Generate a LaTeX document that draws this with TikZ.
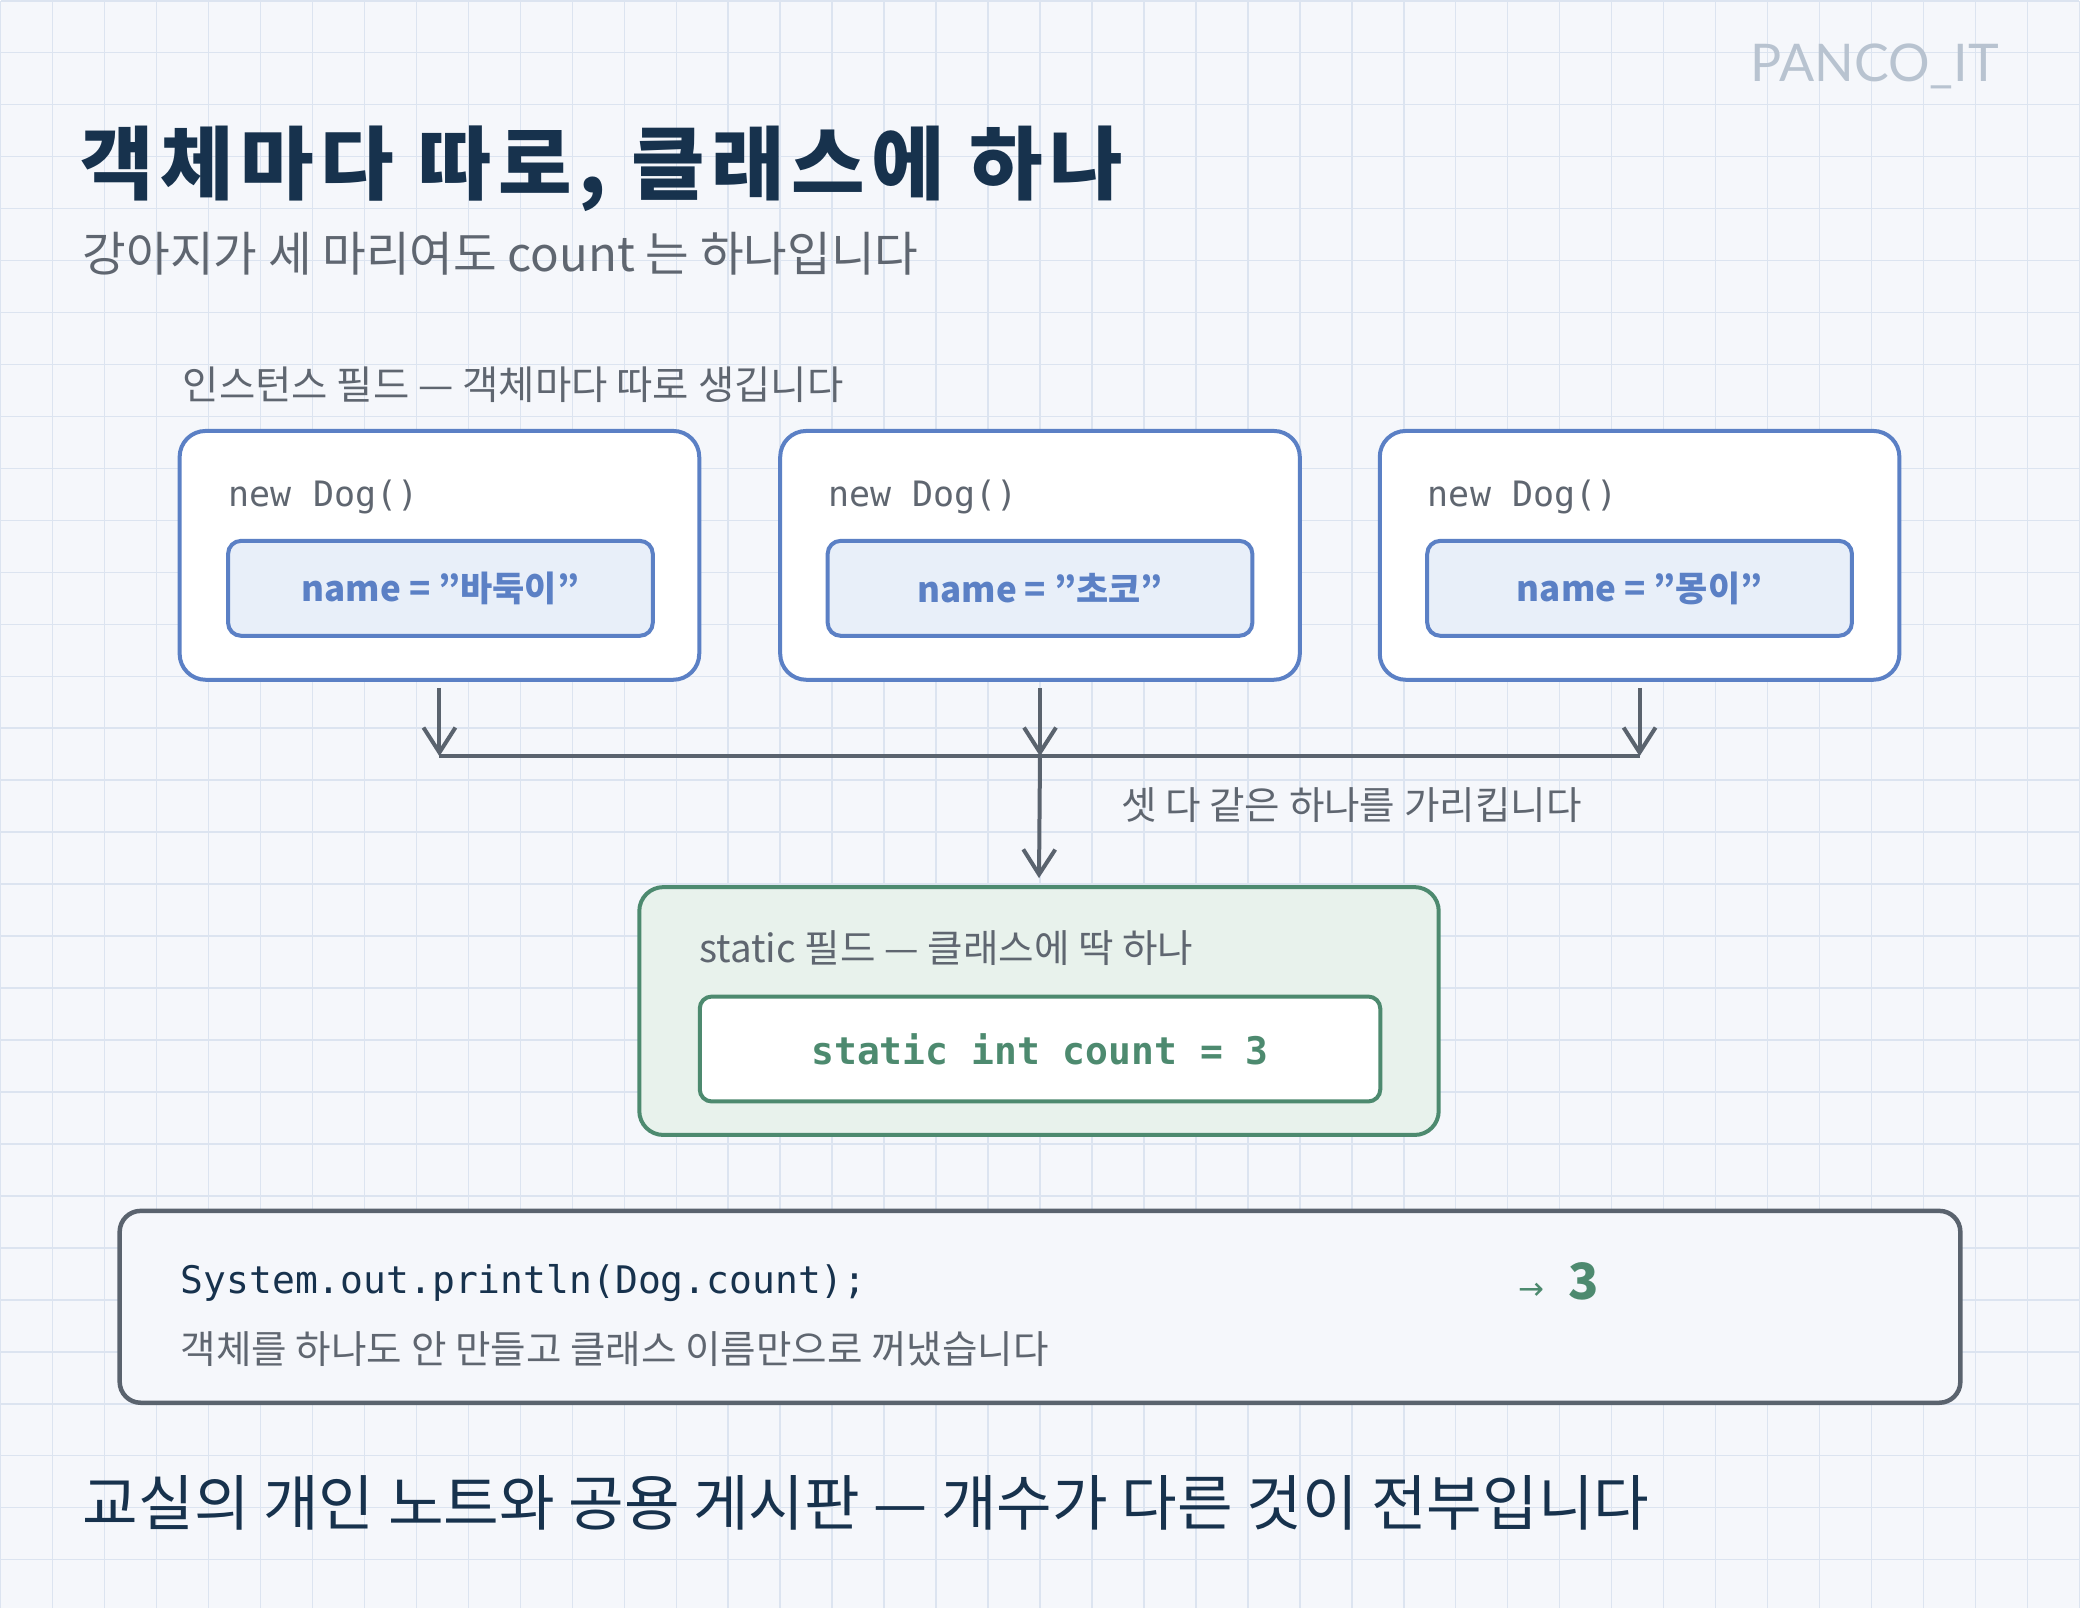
\documentclass[tikz,border=0pt]{standalone}
\usepackage{fontspec}
\setmainfont{Noto Sans CJK KR}
\setmonofont{DejaVu Sans Mono}
\newfontfamily\brandfont{Lato}
\newfontfamily\symbolfont{DejaVu Sans}
\usetikzlibrary{positioning,arrows.meta}

\definecolor{paper}{HTML}{F5F7FB}
\definecolor{gridc}{HTML}{DCE4F0}
\definecolor{navy}{HTML}{17324D}
\definecolor{muted}{HTML}{5F6670}
\definecolor{objblue}{HTML}{5B80C5}
\definecolor{objfill}{HTML}{E8EFF9}
\definecolor{clsgreen}{HTML}{4D8A6F}
\definecolor{clsfill}{HTML}{E8F2EC}
\definecolor{wire}{HTML}{5A636E}
\definecolor{brand}{HTML}{B8C3D0}

\newcommand{\fs}[1]{\fontsize{#1}{#1}\selectfont}

\begin{document}
\begin{tikzpicture}[x=1pt, y=-1pt,
  txt/.style={anchor=west, inner sep=0pt},
  obj/.style={draw=objblue, fill=white, line width=4pt, rounded corners=26pt, minimum width=520pt, minimum height=249pt},
  field/.style={draw=objblue, fill=objfill, line width=4pt, rounded corners=13pt, minimum width=425pt, minimum height=95pt, text=objblue, font=\fs{35}\bfseries},
  ctor/.style={txt, text=muted, font=\fs{35}\ttfamily},
  link/.style={draw=wire, line width=4pt},
  ptr/.style={link, -{Straight Barb[length=25pt, width=32pt]}}]
  % background and grid
  \fill[paper] (0,0) rectangle (2080,1608);
  \draw[gridc, line width=1.5pt] (0,0) grid[step=52pt] (2080,1608);
  \useasboundingbox (0,0) rectangle (2080,1608);

  \node[txt, text=brand, font=\brandfont\fs{52}] (brandmark) at (1751,66) {PANCO\_IT};
  \node[txt, text=navy, font=\fs{80}\bfseries\addfontfeatures{LetterSpace=8}] (title) at (80,168) {객체마다 따로, 클래스에 하나};
  \node[txt, text=muted, font=\fs{47.5}] (subtitle) at (82,253) {강아지가 세 마리여도 count 는 하나입니다};

  % instance fields
  \node[txt, text=muted, font=\fs{39.5}] (instlabel) at (182,384) {인스턴스 필드 — 객체마다 따로 생깁니다};
  \node[obj] (dog1) at (439,555) {};
  \node[obj] (dog2) at (1040,555) {};
  \node[obj] (dog3) at (1640,555) {};
  \node[ctor] (new1) at (228,497) {new Dog()};
  \node[ctor] (new2) at (828,497) {new Dog()};
  \node[ctor] (new3) at (1428,497) {new Dog()};
  \node[field] (name1) at (440,588) {name = "바둑이"};
  \node[field] (name2) at (1040,588) {name = "초코"};
  \node[field] (name3) at (1640,588) {name = "몽이"};

  % static field
  \node[draw=clsgreen, fill=clsfill, line width=4pt, rounded corners=24pt, minimum width=800pt, minimum height=248pt] (static) at (1039,1011) {};
  \node[txt, text=muted, font=\fs{38.6}] (staticlabel) at (699,948) {static 필드 — 클래스에 딱 하나};
  \node[draw=clsgreen, fill=white, line width=4pt, rounded corners=12pt, minimum width=681pt, minimum height=105pt, text=clsgreen, font=\fs{38}\ttfamily\bfseries] (count) at (1040,1049) {static int count = 3};

  % connectors
  \coordinate (bar) at (1040,756);
  \draw[ptr] ([yshift=-6pt]dog1.south) -- (dog1.south |- bar);
  \draw[ptr] ([yshift=-6pt]dog2.south) -- (bar);
  \draw[ptr] ([yshift=-6pt]dog3.south) -- (dog3.south |- bar);
  \draw[link] (dog1.south |- bar) -- (dog3.south |- bar);
  \draw[ptr] (bar) -- ([yshift=7pt]static.north);
  \node[txt, text=muted, font=\fs{38.6}] (sharelabel) at (1121,805) {셋 다 같은 하나를 가리킵니다};

  % access through the class
  \node[draw=wire, fill=paper, line width=4.5pt, rounded corners=21pt, minimum width=1842pt, minimum height=192pt] (usage) at (1040,1307) {};
  \node[txt, text=navy, font=\fs{38}\ttfamily] (code) at (180,1283) {System.out.println(Dog.count);};
  \node[txt, text=muted, font=\fs{38.6}] (note) at (180,1349) {객체를 하나도 안 만들고 클래스 이름만으로 꺼냈습니다};
  \node[txt, text=clsgreen, font=\fs{50}\bfseries] (result) at (1519,1282) {{\symbolfont\mdseries\fs{31}→}\hspace{24pt}3};

  \node[txt, text=navy, font=\fs{60.5}] (moral) at (82,1503) {교실의 개인 노트와 공용 게시판 — 개수가 다른 것이 전부입니다};
\end{tikzpicture}
\end{document}
